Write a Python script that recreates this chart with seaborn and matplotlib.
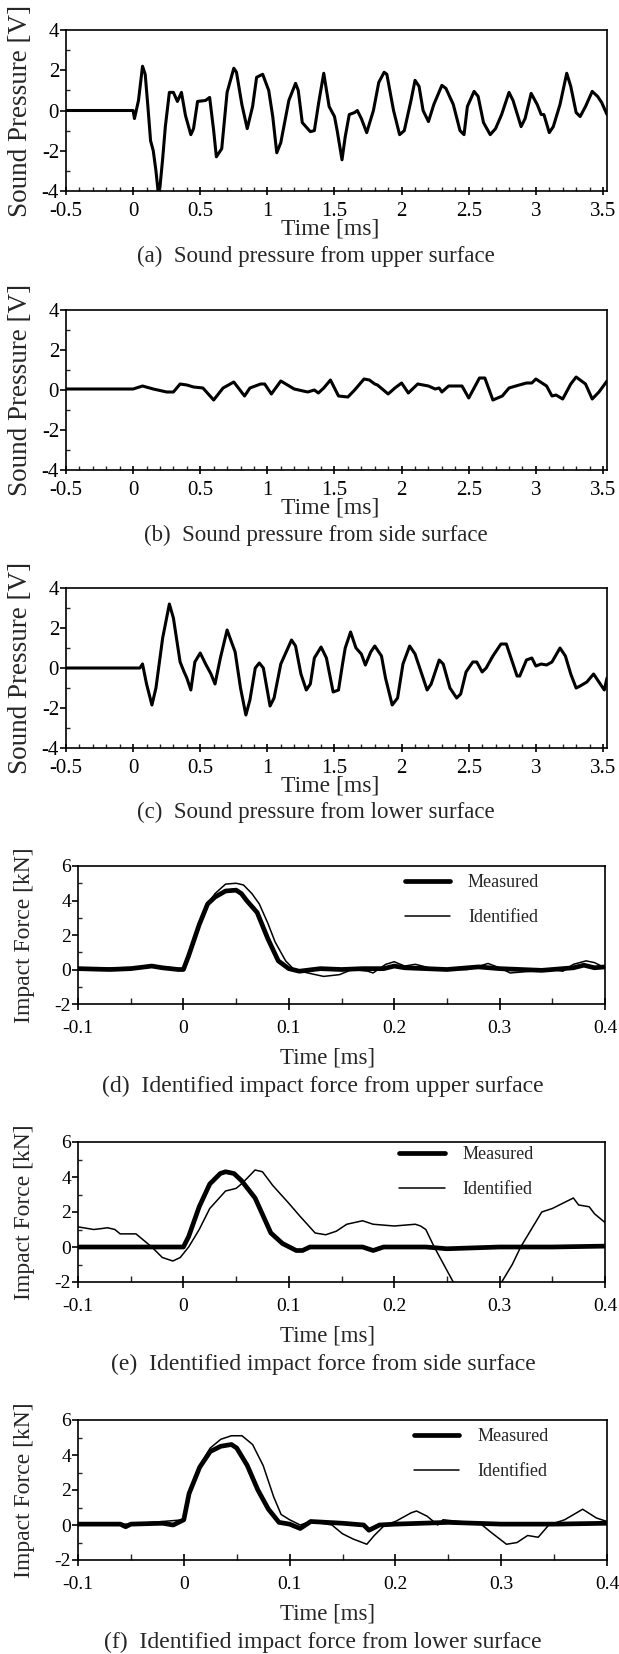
import numpy as np
import matplotlib
matplotlib.use("Agg")
import matplotlib.pyplot as plt
import seaborn as sns
from matplotlib.ticker import MultipleLocator

# ---------------- data ----------------
# (a) sound pressure from upper surface
ta = [-0.5, 0.0, 0.01, 0.04, 0.07, 0.09, 0.11, 0.13, 0.15, 0.17,
      0.185, 0.2, 0.22, 0.24, 0.27, 0.3, 0.33, 0.36, 0.39, 0.43,
      0.45, 0.48, 0.54, 0.57, 0.6, 0.62, 0.66, 0.7, 0.75, 0.77,
      0.81, 0.85, 0.89, 0.92, 0.965, 1.01, 1.04, 1.07, 1.1, 1.16,
      1.21, 1.23, 1.26, 1.32, 1.35, 1.385, 1.42, 1.46, 1.5, 1.52,
      1.556, 1.58, 1.61, 1.65, 1.67, 1.7, 1.74, 1.79, 1.83, 1.87,
      1.89, 1.94, 1.985, 2.02, 2.07, 2.1, 2.13, 2.16, 2.2, 2.24,
      2.3, 2.33, 2.385, 2.435, 2.465, 2.49, 2.54, 2.57, 2.61, 2.66,
      2.7, 2.745, 2.8, 2.83, 2.89, 2.92, 2.965, 3.01, 3.04, 3.06,
      3.1, 3.13, 3.18, 3.23, 3.26, 3.3, 3.33, 3.37, 3.42, 3.46,
      3.49, 3.53]
va = [0, 0, -0.4, 0.5, 2.2, 1.8, 0.2, -1.5, -2.0, -3.0,
      -3.95, -3.8, -2.4, -0.8, 0.9, 0.9, 0.45, 0.9, -0.25, -1.2,
      -0.9, 0.45, 0.5, 0.65, -1.0, -2.3, -1.9, 0.9, 2.1, 1.9,
      0.3, -0.9, 0.2, 1.65, 1.8, 1.0, -0.3, -2.1, -1.6, 0.5,
      1.35, 1.0, -0.6, -1.05, -1.0, 0.5, 1.85, 0.2, -0.3, -1.0,
      -2.45, -1.3, -0.2, -0.1, 0.0, -0.4, -1.1, 0.0, 1.4, 1.9,
      1.8, 0.0, -1.2, -1.0, 0.5, 1.5, 1.2, 0.0, -0.55, 0.3,
      1.25, 1.1, 0.3, -1.0, -1.2, 0.2, 0.95, 0.7, -0.6, -1.2,
      -0.9, -0.2, 0.9, 0.5, -0.8, -0.4, 0.85, 0.3, -0.2, -0.2,
      -1.1, -0.8, 0.3, 1.85, 1.2, -0.1, -0.3, 0.2, 0.95, 0.7,
      0.4, -0.2]

# (b) sound pressure from side surface
tb = [-0.5, -0.3, -0.1, 0.0, 0.07, 0.15, 0.25, 0.3, 0.35, 0.4,
      0.45, 0.52, 0.6, 0.67, 0.75, 0.83, 0.87, 0.95, 0.98, 1.03,
      1.1, 1.2, 1.3, 1.35, 1.38, 1.42, 1.47, 1.53, 1.6, 1.65,
      1.72, 1.76, 1.8, 1.82, 1.9, 1.95, 2.0, 2.05, 2.12, 2.2,
      2.25, 2.28, 2.3, 2.35, 2.45, 2.5, 2.58, 2.62, 2.68, 2.75,
      2.8, 2.85, 2.93, 2.97, 3.0, 3.08, 3.12, 3.15, 3.2, 3.26,
      3.3, 3.37, 3.42, 3.47, 3.53]
vb = [0.05, 0.05, 0.05, 0.05, 0.2, 0.05, -0.1, -0.1, 0.3, 0.25,
      0.15, 0.1, -0.5, 0.1, 0.4, -0.3, 0.1, 0.3, 0.3, -0.2,
      0.45, 0.05, -0.1, 0.0, -0.15, 0.1, 0.5, -0.3, -0.35, 0.0,
      0.55, 0.5, 0.3, 0.25, -0.2, 0.1, 0.35, -0.15, 0.3, 0.2,
      0.05, 0.1, -0.1, 0.2, 0.2, -0.4, 0.6, 0.6, -0.5, -0.3,
      0.1, 0.2, 0.35, 0.35, 0.55, 0.2, -0.3, -0.25, -0.45, 0.3,
      0.65, 0.3, -0.45, -0.1, 0.45]

# (c) sound pressure from lower surface
tc = [-0.5, 0.05, 0.07, 0.1, 0.14, 0.17, 0.22, 0.27, 0.3, 0.35,
      0.38, 0.4, 0.43, 0.46, 0.5, 0.54, 0.58, 0.61, 0.65, 0.7,
      0.76, 0.8, 0.84, 0.87, 0.91, 0.94, 0.97, 1.02, 1.05, 1.1,
      1.18, 1.21, 1.25, 1.29, 1.32, 1.35, 1.4, 1.44, 1.49, 1.53,
      1.56, 1.58, 1.62, 1.66, 1.7, 1.73, 1.77, 1.8, 1.85, 1.88,
      1.93, 1.97, 2.01, 2.06, 2.1, 2.15, 2.19, 2.22, 2.28, 2.31,
      2.36, 2.41, 2.44, 2.48, 2.53, 2.56, 2.6, 2.63, 2.68, 2.74,
      2.78, 2.82, 2.86, 2.88, 2.93, 2.97, 3.0, 3.04, 3.08, 3.12,
      3.18, 3.22, 3.26, 3.3, 3.33, 3.38, 3.43, 3.47, 3.51, 3.53]
vc = [0, 0, 0.2, -0.8, -1.85, -1.0, 1.5, 3.2, 2.5, 0.3,
      -0.2, -0.5, -1.1, 0.3, 0.75, 0.2, -0.3, -0.8, 0.5, 1.9,
      0.8, -1.0, -2.35, -1.6, 0.0, 0.25, 0.0, -1.9, -1.5, 0.2,
      1.4, 1.1, -0.3, -1.1, -0.8, 0.5, 1.05, 0.5, -1.2, -1.1,
      0.2, 1.0, 1.8, 1.0, 0.7, 0.15, 0.8, 1.1, 0.6, -0.5,
      -1.85, -1.5, 0.2, 1.1, 0.7, -0.3, -1.1, -0.8, 0.4, 0.2,
      -1.0, -1.5, -1.3, -0.2, 0.3, 0.3, -0.2, 0.0, 0.6, 1.2,
      1.2, 0.4, -0.4, -0.4, 0.4, 0.5, 0.1, 0.2, 0.15, 0.3,
      1.0, 0.6, -0.3, -1.0, -0.9, -0.7, -0.3, -0.7, -1.1, -0.5]

# (d) impact force, upper surface
td_meas = [-0.1, -0.07, -0.05, -0.03, -0.02, -0.005, 0.0, 0.005, 0.015, 0.023,
           0.03, 0.04, 0.05, 0.055, 0.06, 0.07, 0.08, 0.09, 0.1, 0.11,
           0.13, 0.15, 0.17, 0.19, 0.2, 0.21, 0.25, 0.28, 0.3, 0.34,
           0.37, 0.38, 0.39, 0.4]
fd_meas = [0.05, 0.0, 0.05, 0.2, 0.1, 0.0, 0.0, 0.8, 2.6, 3.8,
           4.2, 4.55, 4.6, 4.4, 4.0, 3.3, 1.8, 0.5, 0.05, -0.1,
           0.05, 0.0, 0.05, 0.05, 0.2, 0.1, 0.0, 0.15, 0.05, -0.05,
           0.1, 0.25, 0.1, 0.15]
td_iden = [-0.1, -0.06, -0.03, -0.01, 0.0, 0.005, 0.015, 0.023, 0.03, 0.04,
           0.05, 0.057, 0.065, 0.072, 0.08, 0.087, 0.097, 0.105, 0.118, 0.133,
           0.148, 0.16, 0.175, 0.18, 0.192, 0.2, 0.21, 0.22, 0.24, 0.27,
           0.289, 0.3, 0.31, 0.33, 0.35, 0.36, 0.37, 0.382, 0.39, 0.4]
fd_iden = [0.0, 0.1, 0.15, 0.1, 0.0, 0.8, 2.6, 3.8, 4.4, 4.95,
           5.0, 4.9, 4.4, 3.8, 2.7, 1.6, 0.5, 0.0, -0.2, -0.4,
           -0.3, 0.0, -0.1, -0.2, 0.3, 0.45, 0.2, 0.3, 0.0, 0.0,
           0.35, 0.1, -0.2, -0.1, 0.0, -0.1, 0.3, 0.5, 0.4, 0.1]

# (e) impact force, side surface
te_meas = [-0.1, -0.04, -0.02, 0.0, 0.005, 0.015, 0.025, 0.035, 0.04, 0.048,
           0.055, 0.068, 0.083, 0.094, 0.107, 0.113, 0.12, 0.17, 0.18, 0.19,
           0.23, 0.25, 0.3, 0.35, 0.4]
fe_meas = [0.0, 0.0, 0.0, 0.0, 0.6, 2.3, 3.6, 4.2, 4.3, 4.2,
           3.8, 2.8, 0.8, 0.2, -0.2, -0.2, 0.0, 0.0, -0.2, 0.0,
           0.0, -0.1, 0.0, 0.0, 0.05]
te_iden = [-0.1, -0.085, -0.078, -0.072, -0.065, -0.06, -0.045, -0.04, -0.03, -0.02,
           -0.01, -0.003, 0.005, 0.015, 0.025, 0.04, 0.05, 0.055, 0.06, 0.068,
           0.075, 0.085, 0.1, 0.11, 0.125, 0.135, 0.145, 0.155, 0.17, 0.18,
           0.2, 0.22, 0.225, 0.23, 0.238, 0.256, 0.28, 0.302, 0.312, 0.32,
           0.33, 0.34, 0.35, 0.36, 0.37, 0.375, 0.385, 0.39, 0.4]
fe_iden = [1.15, 1.0, 1.05, 1.1, 1.0, 0.75, 0.75, 0.5, 0.0, -0.6,
           -0.8, -0.6, 0.0, 1.0, 2.2, 3.2, 3.35, 3.6, 3.9, 4.4,
           4.3, 3.5, 2.5, 1.8, 0.8, 0.7, 0.9, 1.3, 1.5, 1.3,
           1.2, 1.3, 1.2, 1.0, 0.0, -2.0, -4.0, -2.0, -1.0, 0.0,
           1.0, 2.0, 2.2, 2.5, 2.8, 2.4, 2.3, 1.9, 1.4]

# (f) impact force, lower surface
tf_meas = [-0.1, -0.06, -0.055, -0.05, -0.02, -0.01, 0.0, 0.005, 0.015, 0.025,
           0.035, 0.045, 0.05, 0.06, 0.07, 0.08, 0.09, 0.1, 0.11, 0.12,
           0.15, 0.17, 0.175, 0.185, 0.2, 0.25, 0.3, 0.35, 0.4]
ff_meas = [0.05, 0.05, -0.1, 0.05, 0.1, 0.0, 0.3, 1.8, 3.3, 4.2,
           4.5, 4.6, 4.4, 3.4, 2.0, 0.9, 0.15, 0.05, -0.2, 0.2,
           0.1, 0.0, -0.3, 0.0, 0.05, 0.15, 0.05, 0.05, 0.1]
tf_iden = [-0.1, -0.05, 0.0, 0.005, 0.015, 0.025, 0.035, 0.045, 0.055, 0.065,
           0.075, 0.085, 0.092, 0.1, 0.11, 0.12, 0.14, 0.15, 0.16, 0.173,
           0.18, 0.19, 0.2, 0.215, 0.22, 0.23, 0.24, 0.245, 0.26, 0.28,
           0.29, 0.305, 0.315, 0.325, 0.335, 0.345, 0.36, 0.377, 0.39, 0.4]
ff_iden = [0.05, 0.05, 0.3, 1.8, 3.4, 4.4, 4.9, 5.1, 5.1, 4.6,
           3.4, 1.6, 0.6, 0.3, 0.0, 0.2, 0.0, -0.5, -0.8, -1.1,
           -0.6, 0.0, 0.2, 0.7, 0.8, 0.5, 0.0, 0.3, 0.2, 0.1,
           -0.4, -1.1, -1.0, -0.6, -0.7, 0.0, 0.3, 0.9, 0.4, 0.2]

# ticks / labels
sp_xticks = [-0.5, 0, 0.5, 1, 1.5, 2, 2.5, 3, 3.5]
sp_xticklabels = ["-0.5", "0", "0.5", "1", "1.5", "2", "2.5", "3", "3.5"]
sp_yticks = [-4, -2, 0, 2, 4]
sp_yticklabels = ["-4", "-2", "0", "2", "4"]
f_xticks = [-0.1, 0, 0.1, 0.2, 0.3, 0.4]
f_xticklabels = ["-0.1", "0", "0.1", "0.2", "0.3", "0.4"]
f_yticks = [-2, 0, 2, 4, 6]
f_yticklabels = ["-2", "0", "2", "4", "6"]

captions = ["(a)  Sound pressure from upper surface",
            "(b)  Sound pressure from side surface",
            "(c)  Sound pressure from lower surface",
            "(d)  Identified impact force from upper surface",
            "(e)  Identified impact force from side surface",
            "(f)  Identified impact force from lower surface"]
series_names = ["Measured", "Identified"]

# ---------------- style ----------------
sns.set_style("ticks")
plt.rcParams["font.family"] = ["Liberation Serif", "DejaVu Serif"]
plt.rcParams["axes.linewidth"] = 1.2
plt.rcParams["axes.edgecolor"] = "black"

W, H = 619, 1654
fig = plt.figure(figsize=(W / 100, H / 100), dpi=100)


def add_ax(left, right, top, bottom):
    return fig.add_axes([left / W, 1 - bottom / H, (right - left) / W, (bottom - top) / H])


def style_common(ax):
    for s in ax.spines.values():
        s.set_visible(True)
        s.set_linewidth(1.2)
        s.set_color("black")


def sound_panel(box, t, v, caption):
    left, right, top, bottom, xlab_y, cap_y = box
    ax = add_ax(left, right, top, bottom)
    sns.lineplot(x=t, y=v, ax=ax, color="black", linewidth=2.2,
                 estimator=None, sort=False)
    ax.set_xlim(-0.5, 3.53)
    ax.set_ylim(-4, 4)
    ax.set_xticks(sp_xticks)
    ax.set_xticklabels(sp_xticklabels)
    ax.set_yticks(sp_yticks)
    ax.set_yticklabels(sp_yticklabels)
    ax.xaxis.set_minor_locator(MultipleLocator(0.1))
    ax.yaxis.set_minor_locator(MultipleLocator(1))
    ax.tick_params(axis="x", which="major", direction="inout", length=6, width=1.2,
                   labelsize=15, pad=5, colors="black")
    ax.tick_params(axis="x", which="minor", direction="in", length=3, width=1)
    ax.tick_params(axis="y", which="major", direction="out", length=4, width=1.2,
                   labelsize=15, pad=1, colors="black")
    ax.tick_params(axis="y", which="minor", direction="in", length=3, width=1)
    style_common(ax)
    h = bottom - top
    ax.set_xlabel("Time [ms]", fontsize=17, va="center")
    ax.xaxis.set_label_coords((330 - left) / (right - left), -(xlab_y - bottom) / h)
    ax.set_ylabel("Sound Pressure [V]", fontsize=19.5, va="center")
    ax.yaxis.set_label_coords(-(left - 21) / (right - left), 0.5)
    fig.text(316 / W, 1 - cap_y / H, caption, ha="center", va="center", fontsize=16.5)
    return ax


def force_panel(box, tm, fm, ti, fi, caption, leg_anchor):
    left, right, top, bottom, xlab_y, cap_y = box
    ax = add_ax(left, right, top, bottom)
    sns.lineplot(x=tm, y=fm, ax=ax, color="black", linewidth=3.4,
                 estimator=None, sort=False, label=series_names[0], legend=False)
    sns.lineplot(x=ti, y=fi, ax=ax, color="black", linewidth=1.1,
                 estimator=None, sort=False, label=series_names[1], legend=False)
    ax.set_xlim(-0.1, 0.4)
    ax.set_ylim(-2, 6)
    ax.set_xticks(f_xticks)
    ax.set_xticklabels(f_xticklabels)
    ax.set_yticks(f_yticks)
    ax.set_yticklabels(f_yticklabels)
    ax.xaxis.set_minor_locator(MultipleLocator(0.05))
    ax.yaxis.set_minor_locator(MultipleLocator(1))
    ax.tick_params(axis="x", which="major", direction="inout", length=9, width=1.2,
                   labelsize=14, pad=7, colors="black")
    ax.tick_params(axis="x", which="minor", direction="in", length=4, width=1)
    ax.tick_params(axis="y", which="major", direction="out", length=4, width=1.2,
                   labelsize=14, pad=1, colors="black")
    ax.tick_params(axis="y", which="minor", direction="in", length=3, width=1)
    style_common(ax)
    h = bottom - top
    ax.set_xlabel("Time [ms]", fontsize=16.5, va="center")
    ax.xaxis.set_label_coords((328 - left) / (right - left), -(xlab_y - bottom) / h)
    ax.set_ylabel("Impact Force [kN]", fontsize=17, va="center")
    ax.yaxis.set_label_coords(-(left - 24) / (right - left), 0.5)
    ax.legend(loc="upper left", bbox_to_anchor=leg_anchor, frameon=False,
              fontsize=13, handlelength=2.5, handletextpad=1.0,
              labelspacing=1.0, borderpad=0, borderaxespad=0)
    fig.text(323 / W, 1 - cap_y / H, caption, ha="center", va="center", fontsize=17)
    return ax


# boxes: left, right, top, bottom, xlabel y, caption y (pixels from top)
sound_panel((66, 607, 30, 191, 229, 256), ta, va, captions[0])
sound_panel((66, 607, 310, 470, 508, 535), tb, vb, captions[1])
sound_panel((66, 607, 588, 748, 786, 812), tc, vc, captions[2])
force_panel((78, 605, 866, 1004, 1058, 1086), td_meas, fd_meas, td_iden, fd_iden,
            captions[3], (0.62, 0.94))
force_panel((78, 605, 1142, 1282, 1336, 1364), te_meas, fe_meas, te_iden, fe_iden,
            captions[4], (0.61, 0.97))
force_panel((78, 607, 1420, 1560, 1614, 1642), tf_meas, ff_meas, tf_iden, ff_iden,
            captions[5], (0.635, 0.94))

fig.savefig("out.png", dpi=100)
